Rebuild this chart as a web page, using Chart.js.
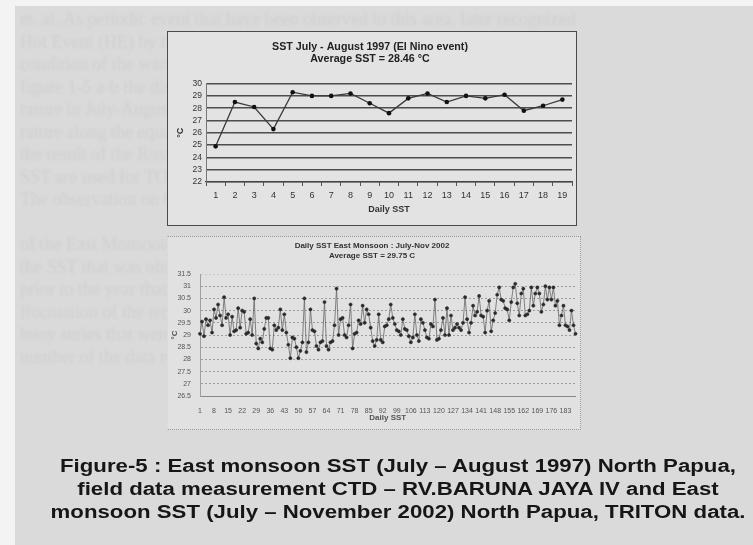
<!DOCTYPE html>
<html><head><meta charset="utf-8">
<script src="https://cdn.jsdelivr.net/npm/chart.js@4.4.1/dist/chart.umd.min.js"></script>
<style>
html,body{margin:0;padding:0;background:#f3f3f3;width:753px;height:545px;overflow:hidden;font-family:"Liberation Sans",Arial,sans-serif;}
#page{position:absolute;left:15px;top:6px;width:738px;height:539px;background:#dadada;}
#bg{position:absolute;left:20px;top:8px;width:733px;font-family:"Liberation Serif",serif;font-size:18px;line-height:22.5px;color:#d0d0d0;white-space:nowrap;overflow:hidden;filter:blur(1.1px);}
#box1{position:absolute;left:167px;top:31px;width:408px;height:193px;border:1px solid #4a4a4a;background:#e3e3e3;}
#box2{position:absolute;left:167px;top:236px;width:412px;height:192px;border:1px dotted #9a9a9a;border-left-color:#d4d4d4;background:#e1e1e1;}
canvas{display:block;}
#cap{position:absolute;left:28px;top:455px;width:740px;text-align:center;font-weight:bold;font-size:17.5px;line-height:23px;color:#161616;transform:scaleX(1.27);transform-origin:370px 0;}
</style></head>
<body>
<div id="page"></div>
<div id="bg">
et. al. As periodic event that have been observed in this area, later recognized<br>
Hot Event (HE) by the result of heat flux. Then in that spot<br>
condition of the warm pool with the function of daytime<br>
figure 1-5 a-b the distribution of the SST than the<br>
rature in July-August 1997 and the range 19<br>
rature along the equator in the western Pacific<br>
the result of the Rossby wave in the Pacific on glob<br>
SST are used for TOPEX Poseidon observation (NASA, 199<br>
The observation on the TRITON buoy data and<br>
<br>
of the East Monsoon in the area of the western<br>
the SST that was observed in the North Papua si<br>
prior to the year that was in the El Nino, we<br>
fluctuation of the temperature in this area and<br>
buoy series that were observed by the monitoring<br>
number of the data recording equipment within the cell<br>
</div>
<div id="box1"><canvas id="c1" width="408" height="193"></canvas></div>
<div id="box2"><canvas id="c2" width="412" height="192"></canvas></div>
<div id="cap">Figure-5 : East monsoon SST (July – August 1997) North Papua,<br>field data measurement CTD – RV.BARUNA JAYA IV and East<br>monsoon SST (July – November 2002) North Papua, TRITON data.</div>
<script>
// ---- Chart 1: SST July - August 1997 ----
const days1997 = ['1','2','3','4','5','6','7','8','9','10','11','12','13','14','15','16','17','18','19'];
const sst1997 = [24.9, 28.5, 28.1, 26.3, 29.3, 29.0, 29.0, 29.2, 28.4, 27.6, 28.8, 29.2, 28.5, 29.0, 28.8, 29.1, 27.8, 28.2, 28.7];
const title1997 = ['SST July - August 1997 (El Nino event)', 'Average SST = 28.46 °C'];
const yMin1997 = 22, yMax1997 = 30, yStep1997 = 1;

// ---- Chart 2: Daily SST East Monsoon July-Nov 2002 ----
const sst2002 = [
 29.05, 29.55, 28.95, 29.65, 29.4, 29.6, 29.1, 30.05, 29.7, 30.25, 29.8, 29.4, 30.55, 29.7, 29.85, 29.0, 29.75, 29.15, 29.2, 30.1, 29.3, 30.0, 29.95,
 29.05, 29.1, 29.65, 29.0, 30.5, 28.65, 28.45, 28.85, 28.7, 29.25, 29.7, 29.7, 28.45, 28.4, 29.4, 29.2, 29.3, 30.05, 29.2, 29.85, 29.1, 28.6,
 28.05, 28.9, 28.85, 28.5, 28.05, 28.35, 28.7, 30.5, 28.3, 28.7, 30.05, 29.2, 29.15, 28.55, 28.4, 28.7, 28.75, 30.35, 28.55, 28.4, 28.7,
 28.75, 29.4, 30.9, 29.0, 29.65, 29.7, 29.0, 28.9, 29.4, 30.25, 28.45, 29.05, 29.1, 29.6, 29.45, 30.2, 29.5, 30.05, 29.85, 29.3, 28.75,
 28.55, 28.8, 29.85, 28.8, 28.7, 29.35, 29.4, 29.65, 30.25, 29.7, 29.45, 29.2, 29.15, 29.0, 29.65, 29.25, 29.2, 28.95, 28.7, 28.9,
 29.85, 29.0, 28.75, 29.65, 29.5, 29.2, 28.9, 28.85, 29.45, 29.35, 30.45, 28.8, 28.85, 29.2, 29.7, 29.0, 30.1, 29.0, 29.8, 29.2,
 29.3, 29.45, 29.3, 29.2, 29.5, 30.55, 29.65, 29.1, 29.5, 30.2, 29.8, 29.95, 30.6, 29.8, 29.75, 29.1, 30.0, 30.4, 29.15, 29.6,
 29.9, 30.65, 30.95, 30.45, 30.4, 30.1, 30.05, 29.6, 30.35, 30.95, 31.1, 30.3, 29.8, 30.7, 30.9, 29.8, 29.85, 30.0, 30.95, 30.2, 30.7,
 30.95, 30.7, 29.95, 30.25, 31.0, 30.45, 30.95, 30.45, 30.95, 30.2, 30.4, 29.4, 29.8, 30.2, 29.4, 29.35, 29.2, 30.0, 29.4, 29.05
];
const days2002 = sst2002.map((v, i) => String(i + 1));
const tickDays2002 = ['1','8','15','22','29','36','43','50','57','64','71','78','85','92','99','106','113','120','127','134','141','148','155','162','169','176','183'];
const yTicks2002 = ['26.5','27','27.5','28','28.5','29','29.5','30','30.5','31','31.5'];
const title2002 = ['Daily SST East Monsoon : July-Nov 2002', 'Average SST = 29.75 C'];

const FONT = '"Liberation Sans", Arial, sans-serif';

new Chart(document.getElementById('c1'), {
  type: 'line',
  data: { labels: days1997, datasets: [{
    data: sst1997, borderColor: '#3a3a3a', borderWidth: 1.3, tension: 0,
    pointRadius: 2.3, pointBackgroundColor: '#111', pointBorderColor: '#111', pointBorderWidth: 0
  }]},
  options: {
    responsive: false, animation: false,
    layout: { padding: { left: 0, right: 4, top: 0, bottom: 0 } },
    plugins: {
      legend: { display: false }, tooltip: { enabled: false },
      title: { display: true, text: title1997, color: '#222',
        font: { family: FONT, size: 10.7, weight: 'bold', lineHeight: 1.15 },
        padding: { top: 9, bottom: 18 } }
    },
    scales: {
      x: {
        offset: true,
        afterFit: s => { s.height = 43; },
        grid: { display: true, drawOnChartArea: false, drawTicks: true, tickLength: 4, color: '#555', offset: true },
        border: { display: true, color: '#444', width: 1.2 },
        ticks: { color: '#333', font: { family: FONT, size: 9 }, padding: 4, autoSkip: false, maxRotation: 0, minRotation: 0 },
        title: { display: true, text: 'Daily SST', color: '#333', font: { family: FONT, size: 9, weight: 'bold' }, padding: { top: 0, bottom: 10 } }
      },
      y: {
        min: yMin1997, max: yMax1997,
        afterFit: s => { s.width = 38; },
        grid: { color: '#4d4d4d', lineWidth: 1.6, drawTicks: false },
        border: { display: true, color: '#777', width: 1 },
        ticks: { stepSize: yStep1997, autoSkip: false, color: '#333', font: { family: FONT, size: 8.5 }, padding: 4 },
        title: { display: true, text: '°C', color: '#333', font: { family: FONT, size: 9, weight: 'bold' }, padding: { top: 7, bottom: 0 } }
      }
    }
  }
});

new Chart(document.getElementById('c2'), {
  type: 'line',
  data: { labels: days2002, datasets: [{
    data: sst2002, borderColor: '#666', borderWidth: 0.8, tension: 0,
    pointRadius: 1.6, pointBackgroundColor: '#2a2a2a', pointBorderColor: '#2a2a2a', pointBorderWidth: 0.5
  }]},
  options: {
    responsive: false, animation: false,
    layout: { padding: { left: 0, right: 4, top: 0, bottom: 0 } },
    plugins: {
      legend: { display: false }, tooltip: { enabled: false },
      title: { display: true, text: title2002, color: '#333',
        font: { family: FONT, size: 8, weight: 'bold', lineHeight: 1.25 },
        padding: { top: 4, bottom: 13 } }
    },
    scales: {
      x: {
        afterFit: s => { s.height = 33; },
        grid: { display: false },
        border: { display: true, color: '#888', width: 1 },
        ticks: {
          color: '#555', font: { family: FONT, size: 7 }, padding: 3, autoSkip: false, maxRotation: 0, minRotation: 0,
          callback: function (v, i) { const l = days2002[i]; return tickDays2002.includes(l) ? l : null; }
        },
        title: { display: true, text: 'Daily SST', color: '#555', font: { family: FONT, size: 8, weight: 'bold' }, padding: { top: 0, bottom: 6 } }
      },
      y: {
        min: Number(yTicks2002[0]), max: Number(yTicks2002[yTicks2002.length - 1]),
        afterFit: s => { s.width = 32; },
        afterBuildTicks: s => { s.ticks = yTicks2002.map(t => ({ value: Number(t) })); },
        grid: { color: c => c.tick && c.tick.value === 31.5 ? '#c4c4c4' : '#8c8c8c', lineWidth: 0.8, drawTicks: false },
        border: { display: true, color: '#a0a0a0', width: 1, dash: [2, 2] },
        ticks: { autoSkip: false, color: '#555', font: { family: FONT, size: 7 }, padding: 9, callback: v => String(v) },
        title: { display: true, text: '°C', color: '#555', font: { family: FONT, size: 8, weight: 'bold' }, padding: { top: 2, bottom: 0 } }
      }
    }
  }
});
</script>
</body></html>
